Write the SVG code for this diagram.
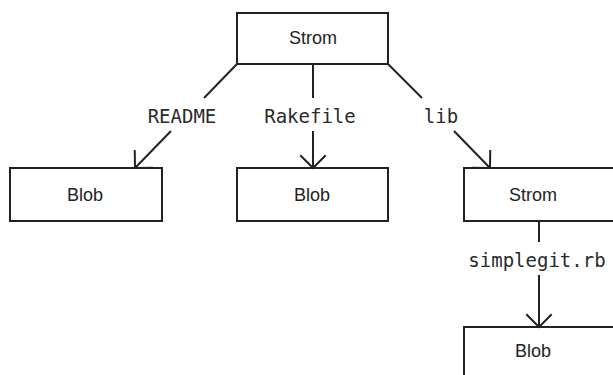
<svg xmlns="http://www.w3.org/2000/svg" width="613" height="375" viewBox="0 0 613 375">
  <style>
    .box { fill: #ffffff; stroke: #222222; stroke-width: 2; }
    .node-label { font-family: "Liberation Sans", Arial, sans-serif; font-size: 18px; fill: #222222; text-anchor: middle; }
    .edge { fill: none; stroke: #222222; stroke-width: 2; }
    .edge-label { font-family: "DejaVu Sans Mono", "Liberation Mono", monospace; font-size: 19px; fill: #2a2a2a; text-anchor: middle; }
  </style>
  <defs>
    <marker id="arrow" markerUnits="userSpaceOnUse" markerWidth="30" markerHeight="30" viewBox="-15 -15 30 30" refX="0" refY="0" orient="auto" overflow="visible">
      <path d="M -12.7 -12.7 L 0 0 L -12.7 12.7" fill="none" stroke="#222222" stroke-width="2"/>
    </marker>
  </defs>
  <rect width="613" height="375" fill="#ffffff"/>

  <g id="node-root">
    <rect class="box" x="237" y="13" width="151" height="51"/>
    <text class="node-label" x="313" y="44">Strom</text>
  </g>
  <g id="node-readme">
    <rect class="box" x="10" y="168" width="152" height="53"/>
    <text class="node-label" x="85" y="201">Blob</text>
  </g>
  <g id="node-rakefile">
    <rect class="box" x="237" y="168" width="151" height="53"/>
    <text class="node-label" x="312" y="201">Blob</text>
  </g>
  <g id="node-lib">
    <rect class="box" x="464" y="168" width="152" height="53"/>
    <text class="node-label" x="533" y="201">Strom</text>
  </g>
  <g id="node-simplegit">
    <rect class="box" x="464" y="327" width="152" height="60"/>
    <text class="node-label" x="533" y="357">Blob</text>
  </g>

  <g id="connectors">
    <path class="edge" d="M 237 64 L 204 98"/>
    <path class="edge" d="M 171 131 L 135 168" marker-end="url(#arrow)"/>
    <text class="edge-label" x="182" y="123">README</text>

    <path class="edge" d="M 313 64 L 313 98"/>
    <path class="edge" d="M 313 131 L 313 168" marker-end="url(#arrow)"/>
    <text class="edge-label" x="310" y="123">Rakefile</text>

    <path class="edge" d="M 388 64 L 422 98"/>
    <path class="edge" d="M 454 131 L 490 168" marker-end="url(#arrow)"/>
    <text class="edge-label" x="441" y="123">lib</text>

    <path class="edge" d="M 539 221 L 539 242"/>
    <path class="edge" d="M 539 275 L 539 327" marker-end="url(#arrow)"/>
    <text class="edge-label" x="537" y="267">simplegit.rb</text>
  </g>
</svg>
